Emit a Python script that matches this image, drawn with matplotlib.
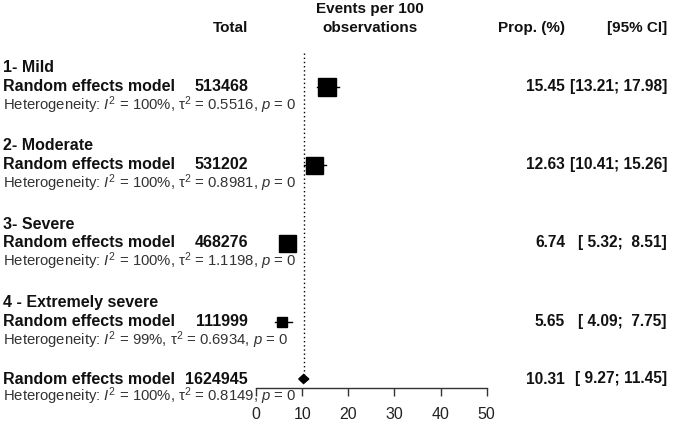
import matplotlib
matplotlib.use("Agg")
import matplotlib.pyplot as plt

plt.rcParams['font.family'] = ['Liberation Sans', 'DejaVu Sans']
plt.rcParams['mathtext.fontset'] = 'custom'
plt.rcParams['mathtext.rm'] = 'Liberation Sans'
plt.rcParams['mathtext.it'] = 'Liberation Sans:italic'
plt.rcParams['mathtext.bf'] = 'Liberation Sans:bold'

groups = ["1- Mild", "2- Moderate", "3- Severe", "4 - Extremely severe"]
totals = [513468, 531202, 468276, 111999]
props = [15.45, 12.63, 6.74, 5.65]
ci_low = [13.21, 10.41, 5.32, 4.09]
ci_high = [17.98, 15.26, 8.51, 7.75]
i2 = ["100%", "100%", "100%", "99%"]
tau2 = ["0.5516", "0.8981", "1.1198", "0.6934"]
weights = [18, 17, 17, 10]  # relative box sizes

overall_total = 1624945
overall_prop = 10.31
overall_low = 9.27
overall_high = 11.45
overall_i2 = "100%"
overall_tau2 = "0.8149"

xticks = [0, 10, 20, 30, 40, 50]

W, H = 678, 426
fig = plt.figure(figsize=(W / 100, H / 100), dpi=100)

x0, x50 = 256, 486.7
ax = fig.add_axes([x0 / W, 0, (x50 - x0) / W, 1])
ax.set_xlim(0, 50)
ax.set_ylim(H, 0)
ax.patch.set_alpha(0)
for s in ['top', 'right', 'left']:
    ax.spines[s].set_visible(False)
ax.spines['bottom'].set_position(('data', 388))
ax.spines['bottom'].set_linewidth(1.0)
ax.spines['bottom'].set_color('#333333')
ax.set_yticks([])
ax.set_xticks(xticks)
ax.tick_params(axis='x', direction='out', length=6, width=1.0, labelsize=11.5, pad=8,
               color='#333333', labelcolor='#222222')

def ft(x, y, s, **kw):
    fig.text(x / W, 1 - y / H, s, **kw)

# headers
hb = dict(fontsize=11, fontweight='bold', va='center', color='#111111')
ft(248, 28, "Total", ha='right', **hb)
ft(370, 9, "Events per 100", ha='center', **hb)
ft(370, 28, "observations", ha='center', **hb)
ft(565, 28, "Prop. (%)", ha='right', **hb)
ft(667, 28, "[95% CI]", ha='right', **hb)

group_y = [68, 146, 224, 303]
step = 18.5
bold = dict(fontsize=11.5, fontweight='bold', va='center', color='#111111')
numb = dict(fontsize=11.2, fontweight='bold', va='center', color='#111111')
het = dict(fontsize=10.7, va='center', color='#333333')

def ci_text(lo, hi):
    return "[" + f"{lo:.2f}".rjust(5) + "; " + f"{hi:.2f}".rjust(5) + "]"

def het_text(i, t):
    return r"Heterogeneity: $I^2$ = " + i + r", τ$^2$ = " + t + r", $p$ = 0"

for g, yg in enumerate(group_y):
    ft(3, yg, groups[g], ha='left', **bold)
    yr = yg + step
    ft(3, yr, "Random effects model", ha='left', **bold)
    ft(248, yr, str(totals[g]), ha='right', **bold)
    ft(3, yr + 19, het_text(i2[g], tau2[g]), ha='left', **het)
    ft(565, yr, f"{props[g]:.2f}", ha='right', **numb)
    ft(667, yr, ci_text(ci_low[g], ci_high[g]), ha='right', **numb)
    ax.plot([ci_low[g], ci_high[g]], [yr, yr], color='black', lw=1.0, zorder=2)
    ax.plot([props[g]], [yr], marker='s', color='black', ms=weights[g] * 0.72,
            mec='black', zorder=3, ls='none')

yo = 379
ft(3, yo, "Random effects model", ha='left', **bold)
ft(248, yo, str(overall_total), ha='right', **bold)
ft(3, yo + 17, het_text(overall_i2, overall_tau2), ha='left', **het)
ft(565, yo, f"{overall_prop:.2f}", ha='right', **numb)
ft(667, yo, ci_text(overall_low, overall_high), ha='right', **numb)
ax.fill([overall_low, overall_prop, overall_high, overall_prop],
        [yo, yo - 4.5, yo, yo + 4.5], color='black', zorder=3)

ax.plot([overall_prop, overall_prop], [53, yo], color='black', lw=1.0, ls=(0, (1, 2)), zorder=1)

fig.savefig("out.png", dpi=100)
